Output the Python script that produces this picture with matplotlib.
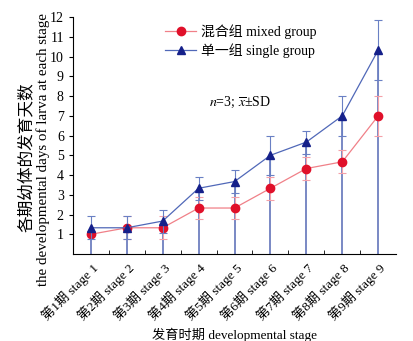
import matplotlib.pyplot as plt
from matplotlib.lines import Line2D
import numpy as np

plt.rcParams['font.family'] = ['Liberation Serif', 'Noto Sans CJK SC']
plt.rcParams['mathtext.fontset'] = 'stix'

stages = ["第1期 stage 1", "第2期 stage 2", "第3期 stage 3", "第4期 stage 4", "第5期 stage 5",
          "第6期 stage 6", "第7期 stage 7", "第8期 stage 8", "第9期 stage 9"]
mixed = [1.0, 1.33, 1.33, 2.33, 2.33, 3.33, 4.33, 4.67, 7.0]
mixed_sd = [0.0, 0.58, 0.58, 0.58, 0.58, 0.58, 0.58, 0.58, 1.0]
single = [1.33, 1.33, 1.67, 3.33, 3.67, 5.0, 5.67, 7.0, 10.33]
single_sd = [0.58, 0.58, 0.58, 0.58, 0.58, 1.0, 0.58, 1.0, 1.53]

x = np.arange(1, len(stages) + 1)
fs = 9.5

fig = plt.figure(figsize=(4.14, 3.41), dpi=100)
ax = fig.add_axes([0.176, 0.255, 0.781, 0.695])

# drop lines from the axis to each point
ax.vlines(x, 0, single, color='#3a52a8', lw=1.2, alpha=0.8, zorder=1)

ax.errorbar(x, mixed, yerr=mixed_sd, color='#f08088', ecolor='#f4a0a8', elinewidth=0.8,
            capsize=3, capthick=0.8, lw=0.9, marker='o', ms=6, mfc='#e0102a', mec='#e0102a', zorder=3)
ax.errorbar(x, single, yerr=single_sd, color='#5068b8', ecolor='#6a80c4', elinewidth=0.8,
            capsize=3, capthick=0.8, lw=0.9, marker='^', ms=6, mfc='#15208a', mec='#15208a', zorder=4)

handles = [Line2D([], [], color='#f08088', lw=0.9, marker='o', ms=6, mfc='#e0102a', mec='#e0102a'),
           Line2D([], [], color='#5068b8', lw=0.9, marker='^', ms=6, mfc='#15208a', mec='#15208a')]
ax.legend(handles, ["混合组 mixed group", "单一组 single group"], loc='upper left',
          bbox_to_anchor=(0.26, 1.005), frameon=False, fontsize=10,
          handlelength=2.2, borderaxespad=0.2, labelspacing=0.3, handletextpad=0.4)

ax.set_xlim(0.5, 9.5)
ax.set_ylim(0, 12)
ax.set_yticks(range(1, 13))
ax.set_xticks(x)
ax.set_xticks(x[:-1] + 0.5, minor=True)
ax.set_xticklabels(stages, rotation=45, ha='right', rotation_mode='anchor', fontsize=fs)
ax.tick_params(axis='x', which='major', length=0, pad=5)
ax.tick_params(axis='x', which='minor', direction='in', length=3)
ax.tick_params(axis='y', direction='out', length=3, labelsize=10)
ax.spines['top'].set_visible(False)
ax.spines['right'].set_visible(False)

ax.set_xlabel("发育时期 developmental stage", fontsize=fs, labelpad=3)

# two-line y label, drawn as separate texts
fig.text(27 / 414, 1 - 157 / 341, "各期幼体的发育天数", rotation=90, fontsize=12,
         ha='center', va='center')
fig.text(43 / 414, 1 - 149 / 341, "the developmental days of larva at each stage", rotation=90,
         fontsize=10.8, ha='center', va='center')

ax.text(4.3, 7.7, r"$n$=3; $\overline{x}$±SD", fontsize=10, va='center')

plt.savefig("out.png", dpi=100)
